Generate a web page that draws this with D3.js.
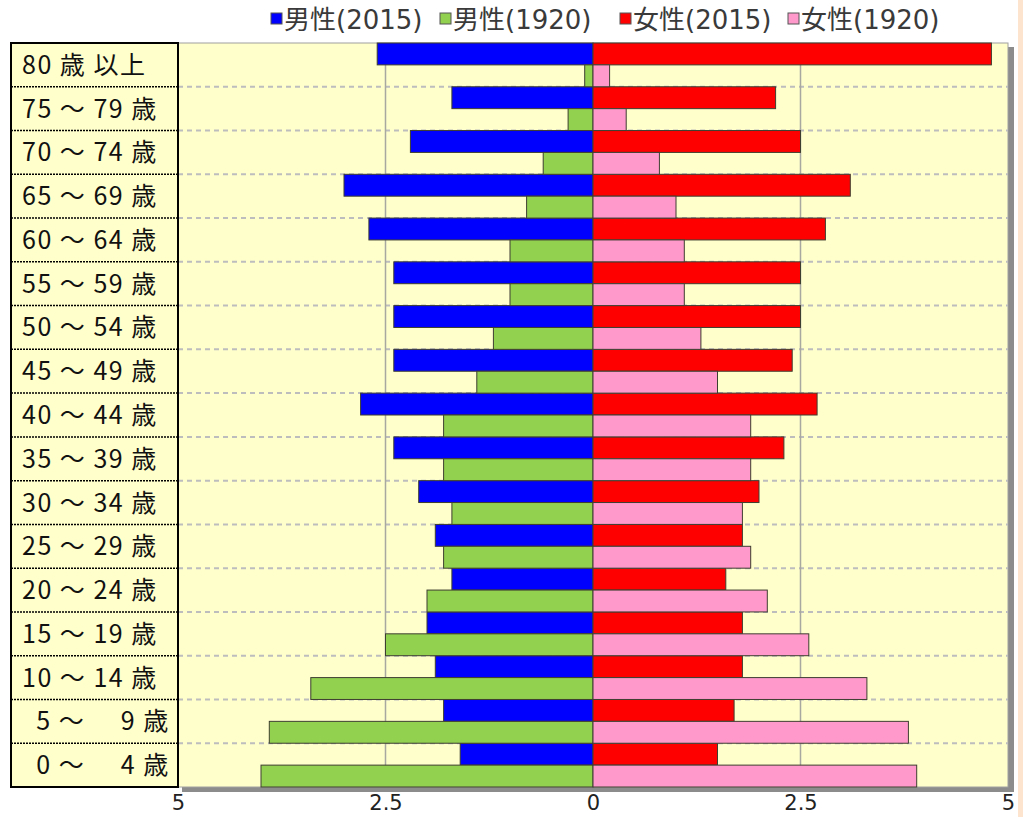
<!DOCTYPE html>
<html>
<head>
<meta charset="utf-8">
<script src="https://cdn.jsdelivr.net/npm/d3@7"></script>
<style>
  body { margin: 0; background: #fff; }
  svg { display: block; }
</style>
</head>
<body>
<svg id="chart" width="1023" height="817"></svg>
<script>
// age groups, top to bottom
var ages = ["80 歳 以上", "75 ～ 79 歳", "70 ～ 74 歳", "65 ～ 69 歳", "60 ～ 64 歳",
  "55 ～ 59 歳", "50 ～ 54 歳", "45 ～ 49 歳", "40 ～ 44 歳", "35 ～ 39 歳",
  "30 ～ 34 歳", "25 ～ 29 歳", "20 ～ 24 歳", "15 ～ 19 歳", "10 ～ 14 歳",
  "  5 ～     9 歳", "  0 ～     4 歳"];

var male2015   = [2.6, 1.7, 2.2, 3.0, 2.7, 2.4, 2.4, 2.4, 2.8, 2.4, 2.1, 1.9, 1.7, 2.0, 1.9, 1.8, 1.6];
var male1920   = [0.1, 0.3, 0.6, 0.8, 1.0, 1.0, 1.2, 1.4, 1.8, 1.8, 1.7, 1.8, 2.0, 2.5, 3.4, 3.9, 4.0];
var female2015 = [4.8, 2.2, 2.5, 3.1, 2.8, 2.5, 2.5, 2.4, 2.7, 2.3, 2.0, 1.8, 1.6, 1.8, 1.8, 1.7, 1.5];
var female1920 = [0.2, 0.4, 0.8, 1.0, 1.1, 1.1, 1.3, 1.5, 1.9, 1.9, 1.8, 1.9, 2.1, 2.6, 3.3, 3.8, 3.9];

var years = ["2015", "1920"];
var legendNames = ["男性(2015)", "男性(1920)", "女性(2015)", "女性(1920)"];
var colors = ["#0000ff", "#92d050", "#ff0000", "#ff99cc"];
var tickValues = [-5, -2.5, 0, 2.5, 5];

var svg = d3.select("#chart");
var plotL = 178, plotR = 1008, plotT = 43, plotB = 787;

var x = d3.scaleLinear().domain([-5, 5]).range([plotL, plotR]);
var y = d3.scaleBand().domain(ages).range([plotT, plotB]).padding(0);
var yInner = d3.scaleBand().domain(years).range([0, y.bandwidth()]).padding(0);

// page edge stripe on the right
svg.append("rect").attr("x", 1018).attr("y", 0).attr("width", 5).attr("height", 817)
  .attr("fill", "#fde4cf");

// plot background + shadow
svg.append("rect").attr("x", plotL + 4).attr("y", plotT + 4)
  .attr("width", plotR - plotL + 2).attr("height", plotB - plotT + 1).attr("fill", "#8c8c8c");
svg.append("rect").attr("x", plotL).attr("y", plotT)
  .attr("width", plotR - plotL).attr("height", plotB - plotT)
  .attr("fill", "#ffffcc").attr("stroke", "#a0a0a0").attr("stroke-width", 1);

// horizontal dashed separators
svg.append("g").selectAll("line")
  .data(ages.slice(1))
  .enter().append("line")
  .attr("x1", plotL).attr("x2", plotR)
  .attr("y1", function(d) { return y(d); })
  .attr("y2", function(d) { return y(d); })
  .attr("stroke", "#bdbdbd").attr("stroke-width", 2).attr("stroke-dasharray", "5,4");

// vertical grid lines at +-2.5
svg.append("g").selectAll("line")
  .data([-2.5, 2.5])
  .enter().append("line")
  .attr("x1", function(d) { return x(d); }).attr("x2", function(d) { return x(d); })
  .attr("y1", plotT).attr("y2", plotB)
  .attr("stroke", "#a8a8a0").attr("stroke-width", 1.5);

// bars
var series = [
  { values: male2015, year: "2015", sign: -1, color: colors[0] },
  { values: male1920, year: "1920", sign: -1, color: colors[1] },
  { values: female2015, year: "2015", sign: 1, color: colors[2] },
  { values: female1920, year: "1920", sign: 1, color: colors[3] }
];

series.forEach(function(s) {
  svg.append("g").selectAll("rect")
    .data(s.values)
    .enter().append("rect")
    .attr("x", function(d) { return s.sign < 0 ? x(-d) : x(0); })
    .attr("y", function(d, i) { return y(ages[i]) + yInner(s.year); })
    .attr("width", function(d) { return Math.abs(x(d) - x(0)); })
    .attr("height", yInner.bandwidth())
    .attr("fill", s.color)
    .attr("stroke", "#3e3e30").attr("stroke-width", 1);
});

// label column
var labelLeft = 11;
svg.append("rect").attr("x", labelLeft).attr("y", plotT)
  .attr("width", plotL - labelLeft).attr("height", plotB - plotT)
  .attr("fill", "#ffffcc");
svg.append("g").selectAll("line")
  .data(ages.slice(1))
  .enter().append("line")
  .attr("x1", labelLeft).attr("x2", plotL)
  .attr("y1", function(d) { return y(d); })
  .attr("y2", function(d) { return y(d); })
  .attr("stroke", "#000").attr("stroke-width", 1.5).attr("stroke-dasharray", "2,1");
svg.append("rect").attr("x", labelLeft).attr("y", plotT)
  .attr("width", plotL - labelLeft).attr("height", plotB - plotT)
  .attr("fill", "none").attr("stroke", "#000").attr("stroke-width", 2);

svg.append("g").selectAll("text")
  .data(ages)
  .enter().append("text")
  .attr("x", 22)
  .attr("y", function(d) { return y(d) + y.bandwidth() / 2; })
  .attr("dy", "0.36em")
  .style("white-space", "pre")
  .attr("font-family", "'Noto Sans CJK JP', sans-serif")
  .attr("font-size", 25)
  .attr("letter-spacing", 1.5)
  .attr("fill", "#111")
  .text(function(d) { return d; });

// bottom axis
var axis = svg.append("g")
  .attr("transform", "translate(0," + plotB + ")")
  .call(d3.axisBottom(x).tickValues(tickValues).tickSize(0).tickPadding(8)
    .tickFormat(function(d) { return String(Math.abs(d)); }));
axis.select(".domain").remove();
axis.selectAll("text")
  .attr("font-family", "'DejaVu Sans', Verdana, sans-serif")
  .attr("font-size", 21)
  .attr("fill", "#222");

// legend
var legendX = [271, 440, 620, 788];
var legend = svg.append("g").selectAll("g")
  .data(legendNames)
  .enter().append("g")
  .attr("transform", function(d, i) { return "translate(" + legendX[i] + ",0)"; });
legend.append("rect")
  .attr("x", 0).attr("y", 13).attr("width", 11).attr("height", 11)
  .attr("fill", function(d, i) { return colors[i]; })
  .attr("stroke", "#555").attr("stroke-width", 1);
legend.append("text")
  .attr("x", 13).attr("y", 29)
  .attr("font-family", "'DejaVu Sans', 'Noto Sans CJK JP', sans-serif")
  .attr("font-size", 26)
  .attr("fill", "#3a3a3a")
  .text(function(d) { return d; });
</script>
</body>
</html>
